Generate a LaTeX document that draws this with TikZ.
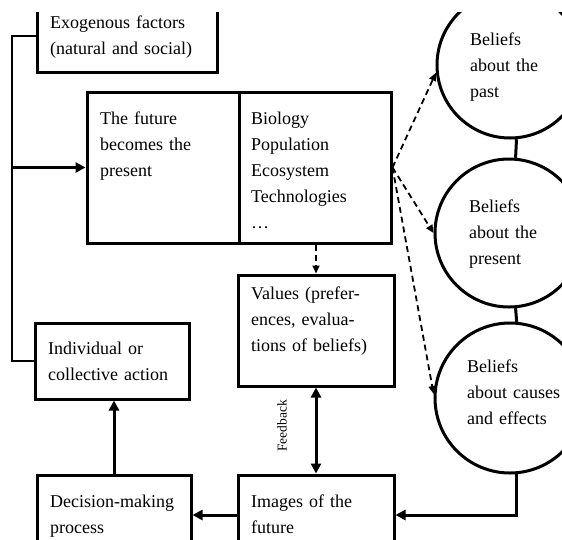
\documentclass[tikz,border=0pt]{standalone}
\usepackage{fontspec}
\setmainfont{Liberation Serif}
\usetikzlibrary{arrows.meta,calc}
\begin{document}
\begin{tikzpicture}[x=1pt,y=-1pt,
  box/.style={draw,line width=3pt,inner sep=0pt},
  txt/.style={anchor=base west,inner sep=0pt,text width=200pt,align=left,font=\fontsize{18}{26}\selectfont},
  bel/.style={draw,circle,line width=3pt,inner sep=0pt},
  arr/.style={line width=3pt,-{Triangle[length=10pt,width=10pt]}},
  dsh/.style={line width=1.8pt,dash pattern=on 6pt off 4pt,-{Triangle[length=8pt,width=7pt]}},
  looppath/.style={line width=2pt},
  solid3/.style={line width=3pt}
]
\useasboundingbox (0,0) rectangle (562,539);
\clip (0,12) rectangle (562,539);

% boxes
\node[box,minimum width=180pt,minimum height=72pt] (exo) at (127,36) {};
\node[box,minimum width=304pt,minimum height=151pt] (future) at (239,167.5) {};
\node[box,minimum width=156pt,minimum height=111pt] (values) at (316,330.5) {};
\node[box,minimum width=156pt,minimum height=80pt] (images) at (316,515) {};
\node[box,minimum width=154pt,minimum height=76pt] (indiv) at (112,361) {};
\node[box,minimum width=154pt,minimum height=80pt] (decision) at (114,515) {};

% circles
\node[bel,minimum size=146pt] (c1) at (510,65) {};
\node[bel,minimum size=148pt] (c2) at (509,233) {};
\node[bel,minimum size=150pt] (c3) at (510,398) {};

% texts
\node[txt] (exoT) at (50,28) {Exogenous factors\\(natural and social)};
\node[txt] (futT) at (100,124) {The future\\becomes the\\present};
\node[txt] (bioT) at (251,124) {Biology\\Population\\Ecosystem\\Technologies\\…};
\node[txt] (valT) at (251,299) {Values (prefer-\\ences, evalua-\\tions of beliefs)};
\node[txt] (indT) at (48,354) {Individual or\\collective action};
\node[txt] (decT) at (50,507) {Decision-making\\process};
\node[txt] (imgT) at (251,507) {Images of the\\future};
\node[txt] (b1T) at (470,45) {Beliefs\\about the\\past};
\node[txt] (b2T) at (469,212) {Beliefs\\about the\\present};
\node[txt] (b3T) at (467,372) {Beliefs\\about causes\\and effects};
\node[rotate=90,inner sep=0pt,font=\fontsize{13.5}{16}\selectfont] (fb) at (282,426) {Feedback};

% connectors
\coordinate (lt) at (12,36);
\coordinate (lb) at (12,361);
\draw[looppath] (exo.west) -- (lt) -- (lb) -- (indiv.west);
\draw[arr] (future.west -| lt) -- (future.west);
\draw[solid3] (future.north) -- (future.south);
\draw[dsh] (future.south -| values.north) -- (values.north);
\draw[dsh] (future.east) -- (c1.186);
\draw[dsh] (future.east) -- (c2.west);
\draw[dsh] (future.east) -- (c3.177);
\draw[solid3] (c1.-85) -- (c2.85);
\draw[solid3] (c2.-85) -- (c3.85);
\draw[arr] (c3.-85) |- (images.east);
\draw[solid3,{Triangle[length=10pt,width=10pt]}-{Triangle[length=10pt,width=10pt]}] (values.south) -- (images.north);
\draw[arr] (images.west) -- (decision.east);
\draw[arr] (decision.north) -- (decision.north |- indiv.south);
\end{tikzpicture}
\end{document}
